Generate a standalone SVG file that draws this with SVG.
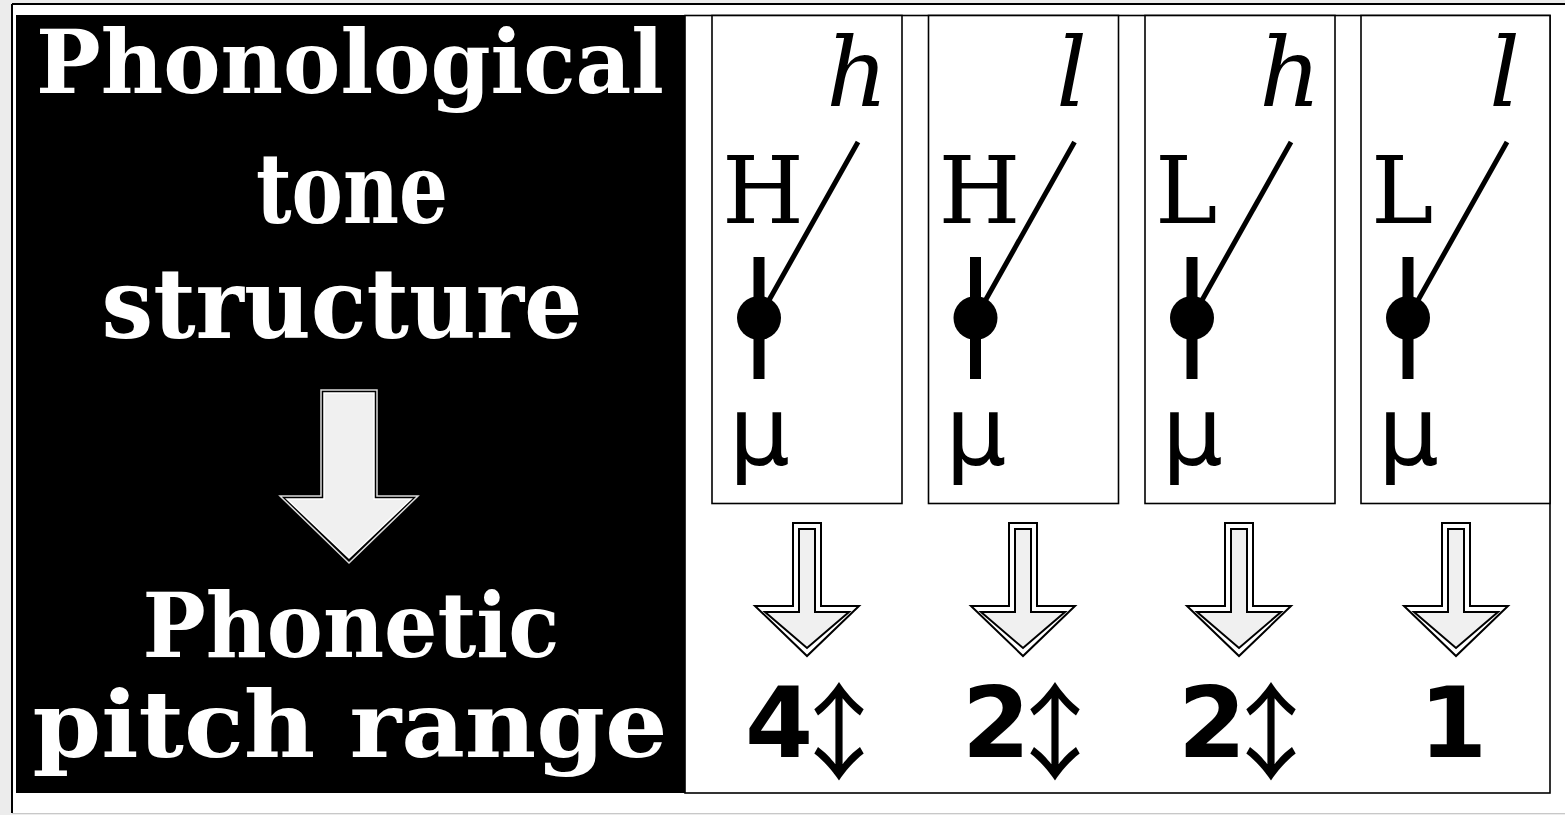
<svg xmlns="http://www.w3.org/2000/svg" width="1565" height="815" viewBox="0 0 1565 815">
<style>
.title{font-family:"DejaVu Serif",serif;font-weight:bold;fill:#fff;text-anchor:middle}
.box{fill:#fff;stroke:#000;stroke-width:1.6}
.ital{font-family:"DejaVu Serif",serif;font-style:italic;font-size:96px;text-anchor:end}
.up{font-family:"DejaVu Serif",serif;font-size:94px}
.mu{font-family:"DejaVu Sans",sans-serif;font-size:96px}
.num{font-family:"DejaVu Sans",sans-serif;font-weight:bold;font-size:98px;text-anchor:middle}
.arr{font-family:"Noto Sans CJK JP","DejaVu Sans",sans-serif;font-weight:normal;font-size:106px}
.diag{stroke:#000;stroke-width:5}
.stem{stroke:#000;stroke-width:11}
.ao{fill:#fff;stroke:#000;stroke-width:2}
.ai{fill:#f0f0f0;stroke:#000;stroke-width:2}
</style>
<rect x="0" y="0" width="1565" height="815" fill="#ececec"/>
<rect x="12" y="4" width="1560" height="809" fill="#fff"/>
<line x1="12" y1="4" x2="12" y2="813" stroke="#000" stroke-width="2"/>
<line x1="12" y1="4" x2="1565" y2="4" stroke="#000" stroke-width="2"/>
<line x1="12" y1="813.5" x2="1565" y2="813.5" stroke="#c8c8c8" stroke-width="1"/>

<g id="left-panel">
<rect x="16" y="15" width="669" height="778" fill="#000"/>
<text class="title" x="350" y="93" font-size="88" textLength="628" lengthAdjust="spacingAndGlyphs">Phonological</text>
<text class="title" x="352" y="223" font-size="98" textLength="192" lengthAdjust="spacingAndGlyphs">tone</text>
<text class="title" x="342" y="338" font-size="98" textLength="481" lengthAdjust="spacingAndGlyphs">structure</text>
<path d="M321,390 H377 V496 H418 L349,563 L280,496 H321 Z" fill="#000" stroke="#ddd" stroke-width="1.5"/>
<path d="M324,393 H374 V499 H411 L349,558 L287,499 H324 Z" fill="#f0f0f0" stroke="#fff" stroke-width="1.5"/>
<text class="title" x="351" y="657" font-size="90" textLength="417" lengthAdjust="spacingAndGlyphs">Phonetic</text>
<text class="title" x="350" y="757" font-size="92" textLength="635" lengthAdjust="spacingAndGlyphs">pitch range</text>
</g>

<g id="table">
<rect x="685" y="15.5" width="865" height="777.5" fill="#fff" stroke="#000" stroke-width="1.6"/>
</g>

<g id="node1">
<rect class="box" x="712" y="15.5" width="190" height="488"/>
<text class="ital" x="888" y="106">h</text>
<text class="up" x="722" y="223">H</text>
<line class="diag" x1="858" y1="142" x2="759" y2="318"/>
<line class="stem" x1="759" y1="257" x2="759" y2="379"/>
<circle cx="759" cy="318" r="22"/>
<text class="mu" x="729" y="465">μ</text>
</g>
<g id="node2">
<rect class="box" x="928.5" y="15.5" width="190" height="488"/>
<text class="ital" x="1087" y="106">l</text>
<text class="up" x="938.5" y="223">H</text>
<line class="diag" x1="1074.5" y1="142" x2="975.5" y2="318"/>
<line class="stem" x1="975.5" y1="257" x2="975.5" y2="379"/>
<circle cx="975.5" cy="318" r="22"/>
<text class="mu" x="945.5" y="465">μ</text>
</g>
<g id="node3">
<rect class="box" x="1145" y="15.5" width="190" height="488"/>
<text class="ital" x="1321" y="106">h</text>
<text class="up" x="1155" y="223">L</text>
<line class="diag" x1="1291" y1="142" x2="1192" y2="318"/>
<line class="stem" x1="1192" y1="257" x2="1192" y2="379"/>
<circle cx="1192" cy="318" r="22"/>
<text class="mu" x="1162" y="465">μ</text>
</g>
<g id="node4">
<rect class="box" x="1361" y="15.5" width="189" height="488"/>
<text class="ital" x="1520" y="106">l</text>
<text class="up" x="1371" y="223">L</text>
<line class="diag" x1="1507" y1="142" x2="1408" y2="318"/>
<line class="stem" x1="1408" y1="257" x2="1408" y2="379"/>
<circle cx="1408" cy="318" r="22"/>
<text class="mu" x="1378" y="465">μ</text>
</g>

<g id="connectors">
<path class="ao" d="M793,523 H821 V606 H859 L807,656 L755,606 H793 Z"/>
<path class="ai" d="M799,529 H815 V612 H849 L807,648 L765,612 H799 Z"/>
<path class="ao" d="M1009,523 H1037 V606 H1075 L1023,656 L971,606 H1009 Z"/>
<path class="ai" d="M1015,529 H1031 V612 H1065 L1023,648 L981,612 H1015 Z"/>
<path class="ao" d="M1225,523 H1253 V606 H1291 L1239,656 L1187,606 H1225 Z"/>
<path class="ai" d="M1231,529 H1247 V612 H1281 L1239,648 L1197,612 H1231 Z"/>
<path class="ao" d="M1442,523 H1470 V606 H1508 L1456,656 L1404,606 H1442 Z"/>
<path class="ai" d="M1448,529 H1464 V612 H1498 L1456,648 L1414,612 H1448 Z"/>
</g>

<g id="results">
<text class="num" x="779" y="757">4<tspan class="arr" x="839" y="771" text-anchor="middle">↕</tspan></text>
<text class="num" x="996" y="757">2<tspan class="arr" x="1055" y="771">↕</tspan></text>
<text class="num" x="1212" y="757">2<tspan class="arr" x="1271" y="771">↕</tspan></text>
<text class="num" x="1453" y="757">1</text>
</g>
</svg>
